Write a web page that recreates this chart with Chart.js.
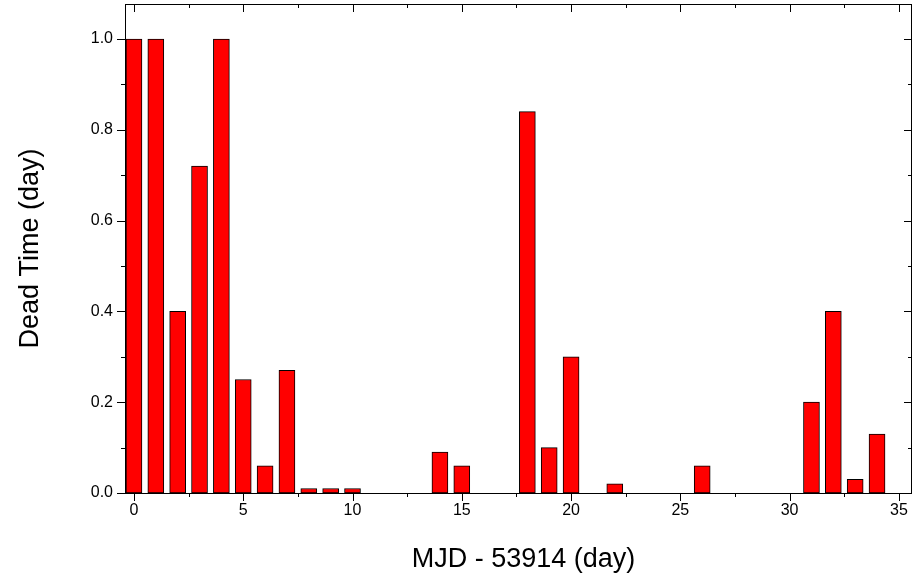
<!DOCTYPE html>
<html><head><meta charset="utf-8">
<script src="https://cdn.jsdelivr.net/npm/chart.js@4"></script>
<style>html,body{margin:0;background:#fff}#w{width:913px;height:584px}</style>
</head><body><div id="w"><canvas id="c"></canvas></div>
<script>
const days = [0,1,2,3,4,5,6,7,8,9,10,14,15,18,19,20,22,26,31,32,33,34];
const deadTime = [1.0,1.0,0.4,0.72,1.0,0.25,0.06,0.27,0.01,0.01,0.01,0.09,0.06,0.84,0.1,0.3,0.02,0.06,0.2,0.4,0.03,0.13];
const xTicks = [0,5,10,15,20,25,30,35];
const yTicks = [0.0,0.2,0.4,0.6,0.8,1.0];
const xTitle = 'MJD - 53914 (day)';
const yTitle = 'Dead Time (day)';

const axesPlugin = {
  id:'axes',
  afterDraw(ch){
    const c=ch.ctx, a=ch.chartArea, xs=ch.scales.x, ys=ch.scales.y;
    c.save(); c.strokeStyle='#000'; c.lineWidth=1; c.fillStyle='#000';
    c.strokeRect(a.left+0.5,a.top+0.5,a.right-a.left-1,a.bottom-a.top);
    c.beginPath();
    for(let v=0; v<=35.01; v+=2.5){
      const px=Math.round(xs.getPixelForValue(v))+0.5, maj=(v%5===0), L=maj?8:4;
      c.moveTo(px,a.bottom); c.lineTo(px,a.bottom+L);
      c.moveTo(px,a.top); c.lineTo(px,a.top+L);
    }
    for(let v=0; v<=1.001; v+=0.1){
      const py=Math.round(ys.getPixelForValue(v))+0.5, maj=(Math.round(v*10)%2===0), L=maj?8:4;
      c.moveTo(a.left,py); c.lineTo(a.left-L,py);
      c.moveTo(a.right,py); c.lineTo(a.right-L,py);
    }
    c.stroke();
    c.font='16px "Liberation Sans", Arial'; c.textAlign='center'; c.textBaseline='top';
    xTicks.forEach(v=>c.fillText(String(v), xs.getPixelForValue(v), a.bottom+10));
    c.textAlign='right'; c.textBaseline='middle';
    yTicks.forEach(v=>c.fillText(v.toFixed(1), a.left-12, ys.getPixelForValue(v)));
    c.font='27px "Liberation Sans", Arial'; c.textAlign='center'; c.textBaseline='middle';
    c.fillText(xTitle,(a.left+a.right)/2+5,560);
    c.translate(31,(a.top+a.bottom)/2); c.rotate(-Math.PI/2); c.fillText(yTitle,0,0);
    c.restore();
  }
};

new Chart(document.getElementById('c'),{
  type:'bar',
  data:{datasets:[{data:days.map((d,i)=>({x:d,y:deadTime[i]})),backgroundColor:'#ff0000',borderColor:'#000',borderWidth:1,borderSkipped:false,barThickness:16}]},
  options:{responsive:true,maintainAspectRatio:false,animation:false,
    layout:{padding:{left:125,right:1,top:4,bottom:91}},
    plugins:{legend:{display:false},tooltip:{enabled:false}},
    scales:{
      x:{type:'linear',min:-0.41,max:35.6,display:false,offset:false},
      y:{min:0,max:1.077,display:false}
    }},
  plugins:[axesPlugin]
});
</script></body></html>
